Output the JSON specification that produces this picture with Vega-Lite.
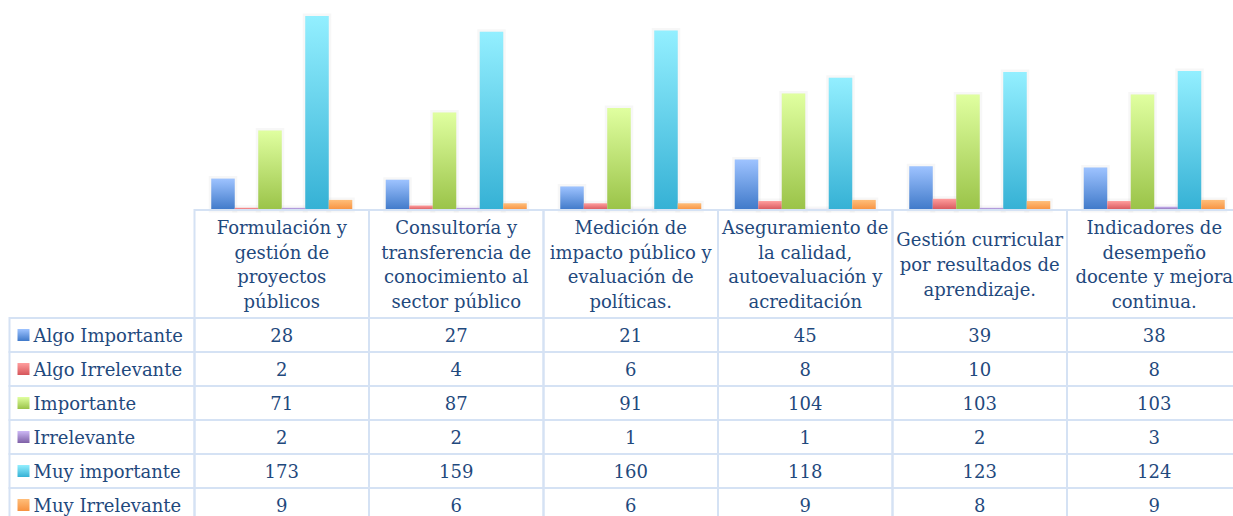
{
  "$schema": "https://vega.github.io/schema/vega-lite/v6.json",
  "width": 1233,
  "height": 516,
  "autosize": {"type": "none"},
  "padding": 0,
  "background": "white",
  "config": {"view": {"stroke": null}, "font": "DejaVu Serif"},
  "datasets": {
    "vals": [
      {"cat": "Formulación y gestión de proyectos públicos", "series": "Algo Importante", "value": 28},
      {"cat": "Consultoría y transferencia de conocimiento al sector público", "series": "Algo Importante", "value": 27},
      {"cat": "Medición de impacto público y evaluación de políticas.", "series": "Algo Importante", "value": 21},
      {"cat": "Aseguramiento de la calidad, autoevaluación y acreditación", "series": "Algo Importante", "value": 45},
      {"cat": "Gestión curricular por resultados de aprendizaje.", "series": "Algo Importante", "value": 39},
      {"cat": "Indicadores de desempeño docente y mejora continua.", "series": "Algo Importante", "value": 38},
      {"cat": "Formulación y gestión de proyectos públicos", "series": "Algo Irrelevante", "value": 2},
      {"cat": "Consultoría y transferencia de conocimiento al sector público", "series": "Algo Irrelevante", "value": 4},
      {"cat": "Medición de impacto público y evaluación de políticas.", "series": "Algo Irrelevante", "value": 6},
      {"cat": "Aseguramiento de la calidad, autoevaluación y acreditación", "series": "Algo Irrelevante", "value": 8},
      {"cat": "Gestión curricular por resultados de aprendizaje.", "series": "Algo Irrelevante", "value": 10},
      {"cat": "Indicadores de desempeño docente y mejora continua.", "series": "Algo Irrelevante", "value": 8},
      {"cat": "Formulación y gestión de proyectos públicos", "series": "Importante", "value": 71},
      {"cat": "Consultoría y transferencia de conocimiento al sector público", "series": "Importante", "value": 87},
      {"cat": "Medición de impacto público y evaluación de políticas.", "series": "Importante", "value": 91},
      {"cat": "Aseguramiento de la calidad, autoevaluación y acreditación", "series": "Importante", "value": 104},
      {"cat": "Gestión curricular por resultados de aprendizaje.", "series": "Importante", "value": 103},
      {"cat": "Indicadores de desempeño docente y mejora continua.", "series": "Importante", "value": 103},
      {"cat": "Formulación y gestión de proyectos públicos", "series": "Irrelevante", "value": 2},
      {"cat": "Consultoría y transferencia de conocimiento al sector público", "series": "Irrelevante", "value": 2},
      {"cat": "Medición de impacto público y evaluación de políticas.", "series": "Irrelevante", "value": 1},
      {"cat": "Aseguramiento de la calidad, autoevaluación y acreditación", "series": "Irrelevante", "value": 1},
      {"cat": "Gestión curricular por resultados de aprendizaje.", "series": "Irrelevante", "value": 2},
      {"cat": "Indicadores de desempeño docente y mejora continua.", "series": "Irrelevante", "value": 3},
      {"cat": "Formulación y gestión de proyectos públicos", "series": "Muy importante", "value": 173},
      {"cat": "Consultoría y transferencia de conocimiento al sector público", "series": "Muy importante", "value": 159},
      {"cat": "Medición de impacto público y evaluación de políticas.", "series": "Muy importante", "value": 160},
      {"cat": "Aseguramiento de la calidad, autoevaluación y acreditación", "series": "Muy importante", "value": 118},
      {"cat": "Gestión curricular por resultados de aprendizaje.", "series": "Muy importante", "value": 123},
      {"cat": "Indicadores de desempeño docente y mejora continua.", "series": "Muy importante", "value": 124},
      {"cat": "Formulación y gestión de proyectos públicos", "series": "Muy Irrelevante", "value": 9},
      {"cat": "Consultoría y transferencia de conocimiento al sector público", "series": "Muy Irrelevante", "value": 6},
      {"cat": "Medición de impacto público y evaluación de políticas.", "series": "Muy Irrelevante", "value": 6},
      {"cat": "Aseguramiento de la calidad, autoevaluación y acreditación", "series": "Muy Irrelevante", "value": 9},
      {"cat": "Gestión curricular por resultados de aprendizaje.", "series": "Muy Irrelevante", "value": 8},
      {"cat": "Indicadores de desempeño docente y mejora continua.", "series": "Muy Irrelevante", "value": 9}
    ],
    "cats": [
      {"cat": "Formulación y gestión de proyectos públicos", "label": "Formulación y\ngestión de\nproyectos\npúblicos"},
      {"cat": "Consultoría y transferencia de conocimiento al sector público", "label": "Consultoría y\ntransferencia de\nconocimiento al\nsector público"},
      {"cat": "Medición de impacto público y evaluación de políticas.", "label": "Medición de\nimpacto público y\nevaluación de\npolíticas."},
      {"cat": "Aseguramiento de la calidad, autoevaluación y acreditación", "label": "Aseguramiento de\nla calidad,\nautoevaluación y\nacreditación"},
      {"cat": "Gestión curricular por resultados de aprendizaje.", "label": "Gestión curricular\npor resultados de\naprendizaje."},
      {"cat": "Indicadores de desempeño docente y mejora continua.", "label": "Indicadores de\ndesempeño\ndocente y mejora\ncontinua."}
    ],
    "series": [
      {"series": "Algo Importante"},
      {"series": "Algo Irrelevante"},
      {"series": "Importante"},
      {"series": "Irrelevante"},
      {"series": "Muy importante"},
      {"series": "Muy Irrelevante"}
    ]
  },
  "layer": [
    {
      "data": {"name": "vals"},
      "mark": {"type": "bar", "fill": "#000000", "fillOpacity": 0.03, "stroke": "#000000", "strokeOpacity": 0.03, "strokeWidth": 5},
      "encoding": {
        "x": {"field": "cat", "type": "nominal", "sort": null, "axis": null,
              "scale": {"range": [194.5, 1241.5], "paddingInner": 0.192, "paddingOuter": 0.096}},
        "xOffset": {"field": "series", "type": "nominal", "sort": null,
                    "scale": {"paddingInner": 0, "paddingOuter": 0}},
        "y": {"field": "value", "type": "quantitative", "axis": null,
              "scale": {"domain": [0, 173], "range": [210, 16], "zero": true, "nice": false}}
      }
    },
    {
      "data": {"name": "vals"},
      "mark": {"type": "bar"},
      "encoding": {
        "x": {"field": "cat", "type": "nominal", "sort": null, "axis": null,
              "scale": {"range": [194.5, 1241.5], "paddingInner": 0.192, "paddingOuter": 0.096}},
        "xOffset": {"field": "series", "type": "nominal", "sort": null,
                    "scale": {"paddingInner": 0, "paddingOuter": 0}},
        "y": {"field": "value", "type": "quantitative", "axis": null,
              "scale": {"domain": [0, 173], "range": [210, 16], "zero": true, "nice": false}},
        "fill": {
          "condition": [
            {"test": "datum.series === 'Algo Importante'", "value": {"gradient": "linear", "x1": 0, "y1": 0, "x2": 0, "y2": 1, "stops": [{"offset": 0, "color": "#9EC3FF"}, {"offset": 1, "color": "#3F79C9"}]}},
            {"test": "datum.series === 'Algo Irrelevante'", "value": {"gradient": "linear", "x1": 0, "y1": 0, "x2": 0, "y2": 1, "stops": [{"offset": 0, "color": "#FF9E9E"}, {"offset": 1, "color": "#D6555A"}]}},
            {"test": "datum.series === 'Importante'", "value": {"gradient": "linear", "x1": 0, "y1": 0, "x2": 0, "y2": 1, "stops": [{"offset": 0, "color": "#E0FFA0"}, {"offset": 1, "color": "#9AC348"}]}},
            {"test": "datum.series === 'Irrelevante'", "value": {"gradient": "linear", "x1": 0, "y1": 0, "x2": 0, "y2": 1, "stops": [{"offset": 0, "color": "#CDB8F5"}, {"offset": 1, "color": "#7E60A6"}]}},
            {"test": "datum.series === 'Muy importante'", "value": {"gradient": "linear", "x1": 0, "y1": 0, "x2": 0, "y2": 1, "stops": [{"offset": 0, "color": "#93EFFF"}, {"offset": 1, "color": "#35B1D5"}]}}
          ],
          "value": {"gradient": "linear", "x1": 0, "y1": 0, "x2": 0, "y2": 1, "stops": [{"offset": 0, "color": "#FFBE7A"}, {"offset": 1, "color": "#F7913F"}]}
        }
      }
    },
    {
      "data": {"name": "cats"},
      "mark": {"type": "rect", "filled": false, "color": "#D5E2F4", "strokeWidth": 2},
      "encoding": {
        "x": {"field": "cat", "type": "nominal", "sort": null, "axis": null,
              "scale": {"range": [194.5, 1241.5], "paddingInner": 0, "paddingOuter": 0}},
        "y": {"datum": "header", "type": "nominal", "axis": null,
              "scale": {"range": [210, 318], "paddingInner": 0, "paddingOuter": 0}}
      }
    },
    {
      "data": {"name": "cats"},
      "mark": {"type": "text", "lineBreak": "\n", "fontSize": 18, "lineHeight": 24.7, "color": "#1F497D", "align": "center", "baseline": "middle",
               "dy": {"expr": "2 - (length(split(datum.label, '\\n')) - 1) * 12.35"}},
      "encoding": {
        "x": {"field": "cat", "type": "nominal", "sort": null, "axis": null,
              "scale": {"range": [194.5, 1241.5], "paddingInner": 0, "paddingOuter": 0}},
        "y": {"datum": "header", "type": "nominal", "axis": null,
              "scale": {"type": "band", "range": [210, 318], "paddingInner": 0, "paddingOuter": 0}},
        "text": {"field": "label", "type": "nominal"}
      }
    },
    {
      "data": {"name": "vals"},
      "mark": {"type": "rect", "filled": false, "color": "#D5E2F4", "strokeWidth": 2},
      "encoding": {
        "x": {"field": "cat", "type": "nominal", "sort": null, "axis": null,
              "scale": {"range": [194.5, 1241.5], "paddingInner": 0, "paddingOuter": 0}},
        "y": {"field": "series", "type": "nominal", "sort": null, "axis": null,
              "scale": {"range": [318, 522], "paddingInner": 0, "paddingOuter": 0}}
      }
    },
    {
      "data": {"name": "vals"},
      "mark": {"type": "text", "fontSize": 18, "color": "#1F497D", "align": "center", "baseline": "middle", "dy": 2},
      "encoding": {
        "x": {"field": "cat", "type": "nominal", "sort": null, "axis": null,
              "scale": {"type": "band", "range": [194.5, 1241.5], "paddingInner": 0, "paddingOuter": 0}},
        "y": {"field": "series", "type": "nominal", "sort": null, "axis": null,
              "scale": {"type": "band", "range": [318, 522], "paddingInner": 0, "paddingOuter": 0}},
        "text": {"field": "value", "type": "quantitative"}
      }
    },
    {
      "data": {"name": "series"},
      "mark": {"type": "rect", "filled": false, "color": "#D5E2F4", "strokeWidth": 2},
      "encoding": {
        "x": {"datum": "labels", "type": "nominal", "axis": null,
              "scale": {"range": [9.5, 194.5], "paddingInner": 0, "paddingOuter": 0}},
        "y": {"field": "series", "type": "nominal", "sort": null, "axis": null,
              "scale": {"range": [318, 522], "paddingInner": 0, "paddingOuter": 0}}
      }
    },
    {
      "data": {"name": "series"},
      "mark": {"type": "text", "fontSize": 18, "color": "#1F497D", "align": "left", "baseline": "middle", "dx": 24, "dy": 2},
      "encoding": {
        "x": {"datum": "labels", "type": "nominal", "axis": null, "bandPosition": 0,
              "scale": {"type": "band", "range": [9.5, 194.5], "paddingInner": 0, "paddingOuter": 0}},
        "y": {"field": "series", "type": "nominal", "sort": null, "axis": null,
              "scale": {"type": "band", "range": [318, 522], "paddingInner": 0, "paddingOuter": 0}},
        "text": {"field": "series", "type": "nominal"}
      }
    },
    {
      "data": {"name": "series"},
      "mark": {"type": "point", "shape": "square", "size": 144, "filled": true, "opacity": 1, "strokeWidth": 0},
      "encoding": {
        "x": {"datum": "swatch", "type": "nominal", "axis": null,
              "scale": {"type": "band", "range": [17.5, 29.5], "paddingInner": 0, "paddingOuter": 0}},
        "y": {"field": "series", "type": "nominal", "sort": null, "axis": null,
              "scale": {"type": "band", "range": [318, 522], "paddingInner": 0, "paddingOuter": 0}},
        "fill": {
          "condition": [
            {"test": "datum.series === 'Algo Importante'", "value": {"gradient": "linear", "x1": 0, "y1": 0, "x2": 0, "y2": 1, "stops": [{"offset": 0, "color": "#9EC3FF"}, {"offset": 1, "color": "#3F79C9"}]}},
            {"test": "datum.series === 'Algo Irrelevante'", "value": {"gradient": "linear", "x1": 0, "y1": 0, "x2": 0, "y2": 1, "stops": [{"offset": 0, "color": "#FF9E9E"}, {"offset": 1, "color": "#D6555A"}]}},
            {"test": "datum.series === 'Importante'", "value": {"gradient": "linear", "x1": 0, "y1": 0, "x2": 0, "y2": 1, "stops": [{"offset": 0, "color": "#E0FFA0"}, {"offset": 1, "color": "#9AC348"}]}},
            {"test": "datum.series === 'Irrelevante'", "value": {"gradient": "linear", "x1": 0, "y1": 0, "x2": 0, "y2": 1, "stops": [{"offset": 0, "color": "#CDB8F5"}, {"offset": 1, "color": "#7E60A6"}]}},
            {"test": "datum.series === 'Muy importante'", "value": {"gradient": "linear", "x1": 0, "y1": 0, "x2": 0, "y2": 1, "stops": [{"offset": 0, "color": "#93EFFF"}, {"offset": 1, "color": "#35B1D5"}]}}
          ],
          "value": {"gradient": "linear", "x1": 0, "y1": 0, "x2": 0, "y2": 1, "stops": [{"offset": 0, "color": "#FFBE7A"}, {"offset": 1, "color": "#F7913F"}]}
        }
      }
    }
  ],
  "resolve": {"scale": {"x": "independent", "y": "independent", "xOffset": "independent"}}
}
